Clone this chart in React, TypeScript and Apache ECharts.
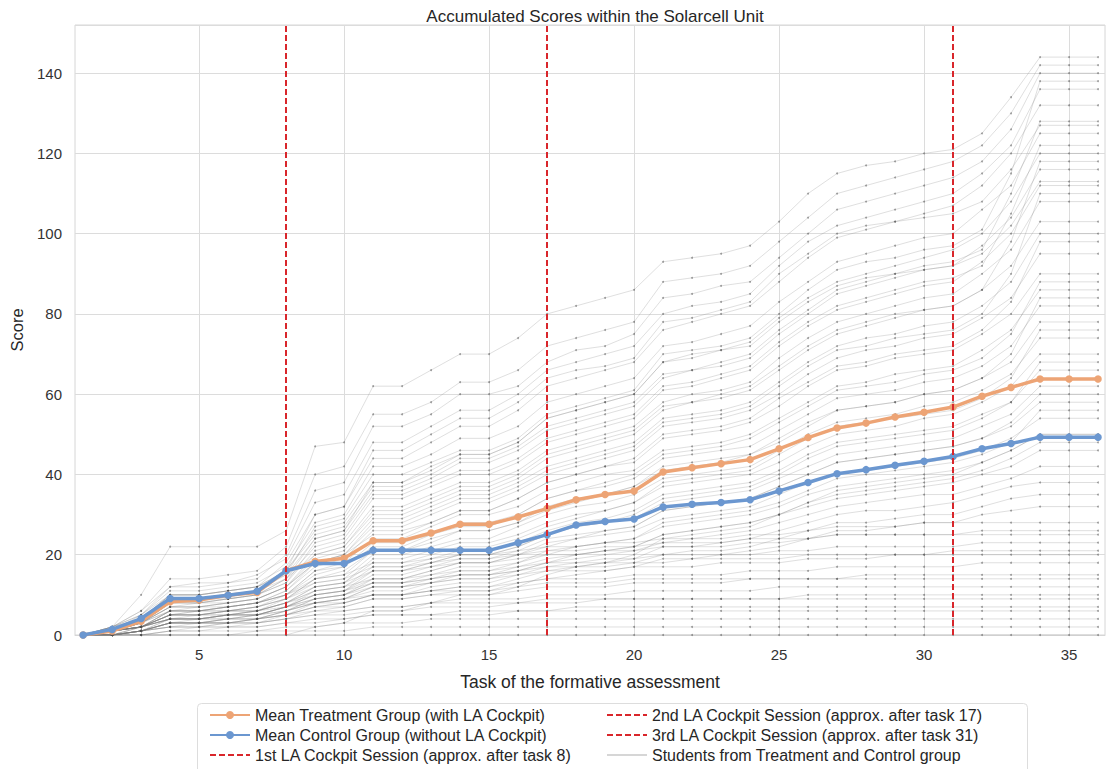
import React, { useEffect, useRef } from "react";
import * as echarts from "echarts";

const tasks = [1,2,3,4,5,6,7,8,9,10,11,12,13,14,15,16,17,18,19,20,21,22,23,24,25,26,27,28,29,30,31,32,33,34,35,36];
const xTickValues = [5, 10, 15, 20, 25, 30, 35];
const sessionTasks = [8, 17, 31];

const treatmentMean = [0,1.0,3.4,8.3,8.7,9.9,10.6,16.0,18.3,19.1,23.5,23.5,25.4,27.6,27.6,29.4,31.5,33.7,35.0,35.9,40.6,41.7,42.7,43.7,46.4,49.2,51.6,52.8,54.3,55.5,56.8,59.5,61.7,63.8,63.8,63.8];
const controlMean = [0,1.4,4.1,9.1,9.1,9.9,10.9,16.0,17.8,17.8,21.1,21.1,21.1,21.1,21.1,23.0,25.0,27.4,28.3,28.9,31.9,32.6,33.0,33.7,35.9,38.0,40.2,41.2,42.3,43.3,44.5,46.4,47.7,49.3,49.3,49.3];

const student01 = [0,2,10,22,22,22,22,26,47,48,62,62,66,70,70,74,80,82,84,86,93,94,95,97,103,110,115,117,118,120,121,125,134,144,144,144];
const student02 = [0,2,6,14,14,15,16,22,40,42,55,55,58,63,63,66,72,74,76,78,88,89,90,92,98,104,110,112,114,116,118,122,130,142,142,142];
const student03 = [0,1,5,12,13,13,14,20,36,38,52,52,55,60,60,62,68,71,72,75,84,85,87,88,94,100,106,108,110,112,114,118,126,140,140,140];
const student04 = [0,2,6,12,12,13,15,19,33,35,48,48,52,56,56,60,66,68,70,72,80,82,83,85,92,98,102,104,106,108,110,115,122,136,136,136];
const student05 = [0,1,4,10,10,11,12,18,30,32,44,44,48,52,52,56,62,64,66,68,76,78,80,82,88,94,99,101,103,105,107,112,120,132,132,132];
const student06 = [0,2,5,11,11,12,13,17,28,30,42,42,45,49,49,52,58,60,62,64,72,73,75,77,83,88,93,95,97,99,100,106,112,125,125,125];
const student07 = [0,1,4,9,9,10,11,16,26,28,38,38,41,45,45,48,54,56,58,60,68,69,71,73,79,84,88,90,92,94,96,100,108,120,120,120];
const student08 = [0,2,4,10,10,11,12,15,24,26,36,36,39,43,43,46,51,53,55,57,64,66,67,69,75,80,85,87,89,91,92,97,104,116,116,116];
const student09 = [0,1,3,8,9,9,10,14,22,24,34,34,37,40,40,43,48,50,52,54,61,62,64,66,72,77,81,83,85,87,88,93,100,112,112,112];
const student10 = [0,1,3,8,8,9,10,13,21,23,32,32,35,38,38,41,46,48,50,52,58,60,61,63,69,74,78,80,82,84,85,90,96,108,108,108];
const student11 = [0,2,4,9,9,10,11,14,20,22,30,30,33,36,36,39,44,46,48,50,56,58,59,61,66,71,75,77,79,81,82,86,92,103,103,103];
const student12 = [0,1,3,7,7,8,9,12,19,21,29,29,32,35,35,38,42,44,46,48,54,55,56,58,63,68,72,74,75,77,78,82,88,100,100,100];
const student13 = [0,1,3,7,7,8,9,12,18,20,27,27,30,33,33,36,40,42,44,46,52,53,54,56,60,65,69,71,72,74,75,79,84,95,95,95];
const student14 = [0,1,2,6,6,7,8,11,17,19,26,26,28,31,31,34,38,40,42,43,49,50,51,53,57,62,66,67,69,70,71,75,80,90,90,90];
const student15 = [0,1,2,6,6,7,8,10,16,18,24,24,27,30,30,32,36,38,40,41,46,47,48,50,54,58,62,63,65,66,67,71,76,86,86,86];
const student16 = [0,1,2,5,6,6,7,10,15,17,23,23,25,28,28,30,34,36,37,39,44,45,46,47,51,55,59,60,61,63,64,67,72,82,82,82];
const student17 = [0,1,2,5,5,6,7,9,14,15,21,21,24,26,26,28,32,34,35,37,41,42,43,45,48,52,56,57,58,60,61,64,68,78,78,78];
const student18 = [0,1,2,5,5,6,6,9,13,14,20,20,22,24,24,27,30,32,33,35,39,40,41,42,46,50,53,54,55,57,58,61,65,74,74,74];
const student19 = [0,1,2,4,5,5,6,8,12,13,19,19,21,23,23,25,28,30,31,33,37,38,39,40,43,47,50,51,52,54,55,58,62,70,70,70];
const student20 = [0,1,2,4,4,5,6,8,11,12,17,17,19,21,21,23,26,28,29,31,35,36,37,38,41,45,48,49,50,51,52,55,58,66,66,66];
const student21 = [0,0,2,4,4,5,5,7,10,11,16,16,18,20,20,22,25,27,28,29,33,34,35,36,39,42,45,46,47,48,49,52,55,62,62,62];
const student22 = [0,0,1,4,4,4,5,7,10,11,15,15,17,19,19,21,24,25,26,27,31,32,33,34,37,40,43,44,45,46,47,49,52,58,58,58];
const student23 = [0,0,1,3,4,4,5,6,9,10,14,14,16,18,18,20,22,24,25,26,29,30,31,32,35,38,40,41,42,43,44,46,49,54,54,54];
const student24 = [0,1,2,4,4,5,5,7,9,10,13,13,15,17,17,18,21,22,23,24,27,28,29,30,32,35,37,38,39,40,41,43,46,50,50,50];
const student25 = [0,0,1,3,3,4,4,6,8,9,12,12,14,15,15,17,19,20,21,22,25,26,27,28,30,32,34,35,36,37,38,40,42,46,46,46];
const student26 = [0,1,2,4,4,5,5,7,8,9,11,11,13,14,14,16,18,19,20,21,23,24,25,26,28,30,32,33,34,35,35,37,39,42,42,42];
const student27 = [0,0,1,3,3,3,4,5,7,8,10,10,12,13,13,15,17,18,18,19,22,22,23,24,26,28,30,31,31,32,33,35,37,38,38,38];
const student28 = [0,0,1,3,3,3,4,5,7,8,10,10,11,12,12,14,16,17,17,18,20,21,21,22,24,26,28,28,29,30,30,32,34,35,35,35];
const student29 = [0,0,1,2,3,3,3,5,6,7,9,9,10,11,11,13,14,15,16,17,19,19,20,21,22,24,26,26,27,28,28,30,31,32,32,32];
const student30 = [0,1,3,6,6,7,8,10,14,15,18,18,19,20,20,21,22,22,23,23,24,24,24,25,25,26,27,27,27,28,28,28,28,28,28,28];
const student31 = [0,1,2,5,5,6,7,9,12,13,16,16,17,18,18,19,20,20,21,21,22,22,22,23,23,24,25,25,25,25,25,26,26,26,26,26];
const student32 = [0,1,2,5,5,5,6,8,11,12,14,14,15,16,16,17,18,18,19,19,20,20,20,20,21,21,22,22,22,22,22,23,23,23,23,23];
const student33 = [0,0,2,4,4,5,5,7,9,10,12,12,13,14,14,15,16,16,16,17,17,17,18,18,18,19,19,19,20,20,20,20,20,20,20,20];
const student34 = [0,0,1,3,3,4,4,6,8,9,10,10,11,12,12,13,14,14,14,15,15,15,15,16,16,16,17,17,17,17,17,18,18,18,18,18];
const student35 = [0,0,1,3,3,3,4,5,7,7,9,9,10,10,10,11,12,12,12,13,13,13,13,14,14,14,14,15,15,15,15,15,15,15,15,15];
const student36 = [0,0,1,2,2,3,3,4,6,6,7,7,8,9,9,9,10,10,10,11,11,11,11,11,12,12,12,12,12,12,12,12,12,12,12,12];
const student37 = [0,0,1,2,2,2,3,4,5,5,6,6,7,7,7,8,8,8,9,9,9,9,9,9,9,10,10,10,10,10,10,10,10,10,10,10];
const student38 = [0,0,0,1,1,2,2,3,4,4,5,5,5,6,6,6,6,7,7,7,7,7,7,7,7,7,7,7,7,7,7,7,7,7,7,7];
const student39 = [0,0,0,1,1,1,1,2,2,3,3,3,4,4,4,4,4,4,4,4,4,4,4,4,4,4,4,4,4,4,4,4,4,4,4,4];
const student40 = [0,0,0,0,0,0,1,1,1,1,2,2,2,2,2,2,2,2,2,2,2,2,2,2,2,2,2,2,2,2,2,2,2,2,2,2];
const student41 = [0,0,0,0,0,0,0,0,2,3,6,6,8,10,10,12,15,17,18,20,24,25,26,27,30,33,36,37,38,39,40,43,46,50,50,50];
const student42 = [0,0,0,0,0,0,0,0,0,0,0,0,0,0,0,0,0,0,0,0,0,0,0,0,0,0,0,0,0,0,0,0,0,0,0,0];
const student43 = [0,1,4,9,9,10,11,15,27,29,40,40,43,46,46,49,55,57,59,61,70,71,72,74,80,86,91,93,94,96,97,101,115,138,138,138];
const student44 = [0,2,5,10,10,11,12,16,25,27,37,37,40,44,44,47,52,54,56,58,65,66,68,70,76,81,86,88,90,92,93,96,110,128,128,128];
const student45 = [0,1,3,8,8,9,10,13,23,25,35,35,38,41,41,44,49,51,53,55,62,63,65,67,73,78,82,84,86,88,89,92,105,122,122,122];
const student46 = [0,1,3,7,8,8,9,12,20,22,31,31,34,37,37,40,45,47,49,51,57,58,60,62,67,72,76,78,80,81,82,86,98,118,118,118];
const student47 = [0,1,2,6,7,7,8,11,18,20,28,28,31,34,34,37,41,43,45,47,53,54,55,57,62,67,71,72,74,75,76,80,90,110,110,110];
const student48 = [0,1,3,7,7,8,9,12,18,20,25,25,28,31,31,34,38,40,42,44,50,51,52,54,59,63,67,68,70,71,72,76,83,98,98,98];
const student49 = [0,1,2,6,6,7,8,10,16,17,22,22,25,27,27,30,34,36,38,40,45,46,47,49,53,57,61,62,63,65,66,69,75,88,88,88];
const student50 = [0,1,2,5,6,6,7,9,14,16,21,21,23,26,26,28,31,33,35,37,42,43,44,45,49,53,56,57,58,60,61,64,70,84,84,84];
const student51 = [0,0,2,5,5,6,6,8,12,13,18,18,20,22,22,24,27,29,31,33,38,39,40,41,45,49,52,53,54,55,56,59,64,76,76,76];
const student52 = [0,0,1,4,4,5,6,7,11,12,16,16,18,20,20,22,25,27,28,30,34,35,36,37,40,44,47,48,49,50,51,54,58,68,68,68];
const student53 = [0,1,2,4,4,5,5,7,10,11,14,14,16,18,18,20,23,24,26,27,31,32,33,34,37,40,43,44,45,46,47,49,53,60,60,60];
const student54 = [0,0,1,3,3,4,4,6,9,10,13,13,14,16,16,18,20,22,23,24,28,29,30,31,33,36,39,40,41,42,43,45,48,56,56,56];
const student55 = [0,0,1,3,3,3,4,5,8,9,12,12,13,15,15,16,18,20,21,22,25,26,27,28,30,33,35,36,37,38,39,41,44,48,48,48];
const student56 = [0,1,3,6,6,7,8,10,13,14,17,17,18,19,19,20,21,21,22,22,23,23,23,24,24,24,25,25,25,25,25,25,25,25,25,25];
const student57 = [0,1,2,5,5,6,6,8,10,11,13,13,14,15,15,16,17,17,18,18,18,19,19,19,19,20,20,20,20,20,21,21,21,21,21,21];
const student58 = [0,0,1,3,3,4,5,6,8,8,10,10,11,11,11,12,13,13,13,14,14,14,14,14,14,14,14,14,14,14,14,14,14,14,14,14];
const student59 = [0,0,1,2,2,3,3,4,5,6,7,7,8,8,8,8,9,9,9,9,9,9,9,9,9,9,9,9,9,9,9,9,9,9,9,9];
const student60 = [0,0,0,1,2,2,2,3,3,4,5,5,5,5,5,6,6,6,6,6,6,6,6,6,6,6,6,6,6,6,6,6,6,6,6,6];
const student61 = [0,1,4,10,10,11,12,16,30,32,46,46,50,54,54,58,64,66,67,69,78,79,81,83,90,95,100,102,103,104,105,108,116,127,127,127];
const student62 = [0,1,3,8,8,9,10,14,24,26,38,38,42,45,45,48,54,56,58,60,68,70,71,72,78,83,87,89,90,91,92,95,102,113,113,113];

const students = [
  student01, student02, student03, student04, student05, student06, student07, student08,
  student09, student10, student11, student12, student13, student14, student15, student16,
  student17, student18, student19, student20, student21, student22, student23, student24,
  student25, student26, student27, student28, student29, student30, student31, student32,
  student33, student34, student35, student36, student37, student38, student39, student40,
  student41, student42, student43, student44, student45, student46, student47, student48,
  student49, student50, student51, student52, student53, student54, student55, student56,
  student57, student58, student59, student60, student61, student62,
];

const NAME_T = "Mean Treatment Group (with LA Cockpit)";
const NAME_C = "Mean Control Group (without LA Cockpit)";
const NAME_S1 = "1st LA Cockpit Session (approx. after task 8)";
const NAME_S2 = "2nd LA Cockpit Session (approx. after task 17)";
const NAME_S3 = "3rd LA Cockpit Session (approx. after task 31)";
const NAME_ST = "Students from Treatment and Control group";
const sessionNames = [NAME_S1, NAME_S2, NAME_S3];

const FONT = "'Liberation Sans', Arial, sans-serif";
const RED = "#d9262b";
const ORANGE = "#eda475";
const BLUE = "#6b97d0";

const toPairs = (vals: number[]) => tasks.map((t, i) => [t, vals[i]]);

export default function App() {
  const ref = useRef<HTMLDivElement>(null);
  useEffect(() => {
    if (!ref.current) return;
    const chart = echarts.init(ref.current, undefined, { renderer: "svg" });

    const studentSeries = students.map((s) => ({
      name: NAME_ST,
      type: "line",
      data: toPairs(s),
      symbol: "circle",
      symbolSize: 2,
      showSymbol: true,
      lineStyle: { color: "rgba(120,120,120,0.3)", width: 0.8 },
      itemStyle: { color: "rgba(80,80,80,0.5)" },
      z: 1,
      silent: true,
    }));

    const sessionSeries = sessionTasks.map((t, i) => ({
      name: sessionNames[i],
      type: "line",
      data: [],
      symbol: "none",
      lineStyle: { color: RED, type: [6, 3], width: 2 },
      itemStyle: { color: RED },
      z: 5,
      markLine: {
        silent: true,
        symbol: "none",
        label: { show: false },
        lineStyle: { color: RED, type: [6, 3], width: 2 },
        data: [{ xAxis: t }],
        z: 5,
      },
    }));

    const legendText = { fontFamily: FONT, fontSize: 16, color: "#262626" };
    const hideSym = { opacity: 0 };

    const option = {
      animation: false,
      backgroundColor: "#ffffff",
      textStyle: { fontFamily: FONT },
      title: {
        text: "Accumulated Scores within the Solarcell Unit",
        left: 590,
        textAlign: "center",
        top: 3,
        textStyle: { fontFamily: FONT, fontSize: 17, fontWeight: "normal", color: "#262626" },
      },
      grid: {
        left: 75,
        right: 3,
        top: 25,
        bottom: 134,
        show: true,
        borderColor: "#d6d6d6",
        borderWidth: 1,
        containLabel: false,
        outerBoundsMode: "none",
      },
      xAxis: {
        type: "value",
        min: 0.72,
        max: 36.24,
        name: "Task of the formative assessment",
        nameLocation: "middle",
        nameGap: 38,
        nameTextStyle: { fontFamily: FONT, fontSize: 17.5, color: "#262626" },
        axisLine: { show: true, lineStyle: { color: "#d6d6d6" } },
        axisTick: { show: false, customValues: xTickValues },
        axisLabel: { customValues: xTickValues, fontFamily: FONT, fontSize: 15, color: "#333", margin: 12 },
        splitLine: { show: true, lineStyle: { color: "#dcdcdc", width: 1 } },
      },
      yAxis: {
        type: "value",
        min: 0,
        max: 152,
        interval: 20,
        name: "Score",
        nameLocation: "middle",
        nameGap: 50,
        nameTextStyle: { fontFamily: FONT, fontSize: 16.5, color: "#262626" },
        axisLine: { show: false },
        axisTick: { show: false },
        axisLabel: { fontFamily: FONT, fontSize: 15, color: "#333", margin: 13, showMaxLabel: false },
        splitLine: { show: true, lineStyle: { color: "#dcdcdc", width: 1 } },
      },
      legend: [
        {
          orient: "vertical",
          left: 209,
          top: 707,
          height: 66,
          padding: 0,
          itemGap: 4,
          itemWidth: 40,
          itemHeight: 10,
          data: [NAME_T, NAME_C, { name: NAME_S1, itemStyle: hideSym }],
          textStyle: legendText,
          selectedMode: false,
        },
        {
          orient: "vertical",
          left: 606,
          top: 707,
          height: 66,
          padding: 0,
          itemGap: 4,
          itemWidth: 40,
          itemHeight: 10,
          data: [
            { name: NAME_S2, itemStyle: hideSym },
            { name: NAME_S3, itemStyle: hideSym },
            { name: NAME_ST, itemStyle: hideSym },
          ],
          textStyle: legendText,
          selectedMode: false,
        },
      ],
      graphic: [
        {
          type: "rect",
          left: 195,
          top: 701,
          shape: { width: 830, height: 80, r: 4 },
          style: { fill: "none", stroke: "#dddddd", lineWidth: 1 },
          silent: true,
        },
      ],
      series: [
        ...studentSeries,
        {
          name: NAME_T,
          type: "line",
          data: toPairs(treatmentMean),
          symbol: "circle",
          symbolSize: 7.5,
          lineStyle: { color: ORANGE, width: 3.5 },
          itemStyle: { color: ORANGE },
          z: 3,
        },
        {
          name: NAME_C,
          type: "line",
          data: toPairs(controlMean),
          symbol: "circle",
          symbolSize: 7.5,
          lineStyle: { color: BLUE, width: 3.5 },
          itemStyle: { color: BLUE },
          z: 4,
        },
        ...sessionSeries,
      ],
    };

    chart.setOption(option as any);
    return () => chart.dispose();
  }, []);

  return (
    <div
      ref={ref}
      style={{ position: "fixed", left: 0, top: 0, width: 1108, height: 769, background: "#fff" }}
    />
  );
}
